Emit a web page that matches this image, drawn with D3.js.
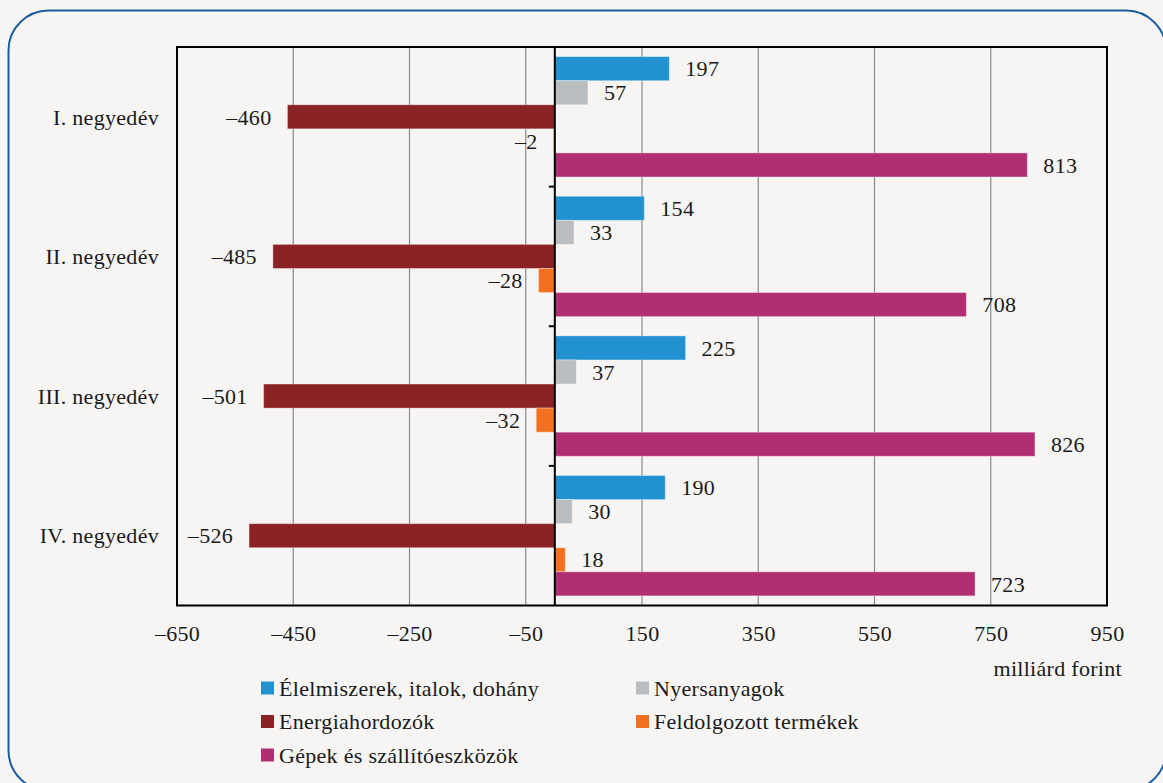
<!DOCTYPE html>
<html>
<head>
<meta charset="utf-8">
<script src="https://cdn.jsdelivr.net/npm/d3@7"></script>
<style>
html,body{margin:0;padding:0;background:#f6f5f3;}
svg{display:block;}
svg text{font-family:'Liberation Serif','Tinos','Times New Roman','DejaVu Serif',serif !important;fill:#1a1a1a;letter-spacing:0.3px;}
</style>
</head>
<body>
<svg id="chart" width="1163" height="783" font-family="'Liberation Serif', 'DejaVu Serif', serif"></svg>
<script>
const categories = ["I. negyedév", "II. negyedév", "III. negyedév", "IV. negyedév"];
const seriesNames = ["Élelmiszerek, italok, dohány", "Nyersanyagok", "Energiahordozók", "Feldolgozott termékek", "Gépek és szállítóeszközök"];
const seriesColors = ["#2191d0", "#bbbec1", "#8b2226", "#f37021", "#b12e73"];
const elelmiszer = [197, 154, 225, 190];
const nyersanyag = [57, 33, 37, 30];
const energia = [-460, -485, -501, -526];
const feldolgozott = [-2, -28, -32, 18];
const gepek = [813, 708, 826, 723];
const xTicks = [-650, -450, -250, -50, 150, 350, 550, 750, 950];
const unitLabel = "milliárd forint";

const seriesValues = [elelmiszer, nyersanyag, energia, feldolgozott, gepek];
const fmt = v => (v < 0 ? "\u2013" + Math.abs(v) : String(v));

const svg = d3.select("#chart");
const W = 1163, H = 783;
const fs = 22;

// background and rounded border
svg.append("rect").attr("width", W).attr("height", H).attr("fill", "#f6f5f3");
svg.append("rect").attr("x", 8.5).attr("y", 10.5).attr("width", 1157.5).attr("height", 780)
  .attr("rx", 40).attr("ry", 40).attr("fill", "none").attr("stroke", "#1b5e9e").attr("stroke-width", 2);

const pLeft = 177, pRight = 1107, pTop = 47, pBottom = 605.5;
const x = d3.scaleLinear().domain([-650, 950]).range([pLeft, pRight]);
const y0 = d3.scaleBand().domain(categories).range([pTop, pBottom]).padding(0);
const y1 = d3.scaleBand().domain(seriesNames).range([0, y0.bandwidth()]).paddingInner(0).paddingOuter(0.4);

// gridlines
svg.append("g").selectAll("line").data(xTicks.slice(1, -1)).join("line")
  .attr("x1", d => x(d)).attr("x2", d => x(d)).attr("y1", pTop).attr("y2", pBottom)
  .attr("stroke", "#8a8a8a").attr("stroke-width", 1.2);

// bars
const data = [];
categories.forEach((c, i) => seriesNames.forEach((s, j) => data.push({c, s, j, v: seriesValues[j][i]})));

svg.append("g").selectAll("rect").data(data).join("rect")
  .attr("x", d => x(Math.min(0, d.v)))
  .attr("width", d => Math.abs(x(d.v) - x(0)))
  .attr("y", d => y0(d.c) + y1(d.s))
  .attr("height", y1.bandwidth())
  .attr("fill", d => seriesColors[d.j])
  .attr("stroke", "rgba(255,255,255,0.35)").attr("stroke-width", 1);

// value labels
svg.append("g").selectAll("text").data(data).join("text")
  .attr("x", d => d.v < 0 ? x(d.v) - 16 : x(d.v) + 16)
  .attr("y", d => y0(d.c) + y1(d.s) + y1.bandwidth() / 2)
  .attr("dy", "0.35em")
  .attr("text-anchor", d => d.v < 0 ? "end" : "start")
  .attr("font-size", fs)
  .text(d => fmt(d.v));

// zero axis with ticks
svg.append("line").attr("x1", x(0)).attr("x2", x(0)).attr("y1", pTop).attr("y2", pBottom)
  .attr("stroke", "#000").attr("stroke-width", 2);
svg.append("g").selectAll("line").data(categories.slice(1)).join("line")
  .attr("x1", x(0) - 6).attr("x2", x(0)).attr("y1", d => y0(d)).attr("y2", d => y0(d))
  .attr("stroke", "#000").attr("stroke-width", 2);

// frame
svg.append("rect").attr("x", pLeft).attr("y", pTop).attr("width", pRight - pLeft).attr("height", pBottom - pTop)
  .attr("fill", "none").attr("stroke", "#000").attr("stroke-width", 2);

// category labels
svg.append("g").selectAll("text").data(categories).join("text")
  .attr("x", 159).attr("y", d => y0(d) + y0.bandwidth() / 2).attr("dy", "0.35em")
  .attr("text-anchor", "end").attr("font-size", fs).text(d => d);

// x axis
const xAxis = d3.axisBottom(x).tickValues(xTicks).tickSize(0).tickPadding(0).tickFormat(fmt);
const gx = svg.append("g").attr("transform", `translate(0,${pBottom})`).call(xAxis);
gx.attr("font-family", null).attr("font-size", null);
gx.select(".domain").remove();
gx.selectAll("text").attr("font-size", fs)
  .attr("fill", "#1a1a1a").attr("y", 28).attr("dy", "0.35em");

svg.append("text").attr("x", 1122).attr("y", 668).attr("dy", "0.35em").attr("text-anchor", "end")
  .attr("font-size", fs).text(unitLabel);

// legend
const legendPos = [[261, 688], [636, 688], [261, 721.5], [636, 721.5], [261, 755]];
const lg = svg.append("g").selectAll("g").data(seriesNames).join("g")
  .attr("transform", (d, i) => `translate(${legendPos[i][0]},${legendPos[i][1]})`);
lg.append("rect").attr("x", 0).attr("y", -6.5).attr("width", 13).attr("height", 13)
  .attr("fill", (d, i) => seriesColors[i]);
lg.append("text").attr("x", 18).attr("y", 0).attr("dy", "0.35em").attr("font-size", fs).text(d => d);
</script>
</body>
</html>
